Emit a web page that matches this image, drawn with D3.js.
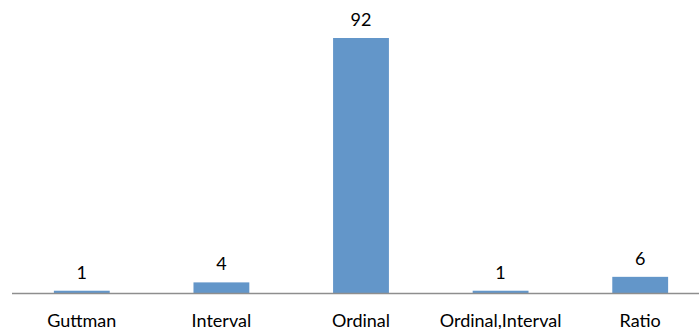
<!DOCTYPE html>
<html>
<head>
<meta charset="utf-8">
<script src="https://cdn.jsdelivr.net/npm/d3@7"></script>
<style>
  html, body { margin: 0; padding: 0; background: #fff; }
  svg { display: block; }
  text { font-family: Lato, "Open Sans", "Liberation Sans", sans-serif; fill: #000; }
</style>
</head>
<body>
<svg id="chart" width="699" height="329"></svg>
<script>
// Counts per measurement scale
const categories = ["Guttman", "Interval", "Ordinal", "Ordinal,Interval", "Ratio"];
const counts = [1, 4, 92, 1, 6];

const width = 699, height = 329;
const margin = { top: 38, left: 12, bottom: 36 };
const baseY = height - margin.bottom + 0.5;   // axis line position
const plotRight = 710;                          // plot runs past the right edge

const svg = d3.select("#chart");

const x = d3.scaleBand()
  .domain(categories)
  .range([margin.left, plotRight])
  .paddingInner(0.6)
  .paddingOuter(0.3);

const y = d3.scaleLinear()
  .domain([0, 92])
  .range([baseY, margin.top]);

// Bars
svg.append("g")
  .selectAll("rect")
  .data(categories)
  .join("rect")
  .attr("x", d => x(d))
  .attr("width", x.bandwidth())
  .attr("y", (d, i) => y(counts[i]))
  .attr("height", (d, i) => baseY - y(counts[i]))
  .attr("fill", "#6396C9");

// Category axis line
svg.append("line")
  .attr("x1", margin.left)
  .attr("x2", plotRight)
  .attr("y1", baseY)
  .attr("y2", baseY)
  .attr("stroke", "#8E8E8E")
  .attr("stroke-width", 1.5);

// Value labels above the bars
svg.append("g")
  .selectAll("text")
  .data(categories)
  .join("text")
  .attr("x", d => x(d) + x.bandwidth() / 2)
  .attr("y", (d, i) => y(counts[i]) - 12)
  .attr("text-anchor", "middle")
  .attr("font-size", 18)
  .text((d, i) => counts[i]);

// Category labels
svg.append("g")
  .selectAll("text")
  .data(categories)
  .join("text")
  .attr("x", d => x(d) + x.bandwidth() / 2)
  .attr("y", 326.5)
  .attr("text-anchor", "middle")
  .attr("font-size", 18)
  .text(d => d);
</script>
</body>
</html>
